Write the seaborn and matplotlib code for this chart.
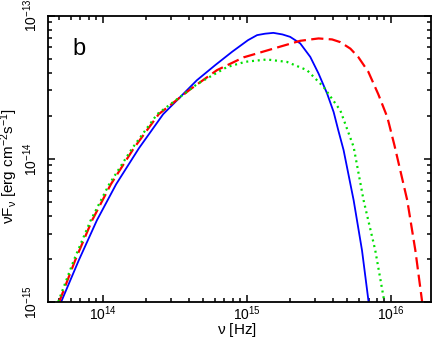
import numpy as np
import pandas as pd
import matplotlib
matplotlib.use('Agg')
import matplotlib.pyplot as plt
import matplotlib.ticker as mticker
import seaborn as sns

# frequencies [Hz] and nuF_nu [erg cm^-2 s^-1]
blue_nu = [5.15e13, 6.82e13, 9.12e13, 1.24e14, 1.78e14, 2.63e14, 4.51e14, 6.04e14, 7.93e14,
           1.02e15, 1.18e15, 1.34e15, 1.53e15, 1.77e15, 2.00e15, 2.35e15, 2.76e15, 3.15e15,
           3.61e15, 4.01e15, 4.32e15, 4.70e15, 5.52e15, 6.31e15, 7.01e15]
blue_f = [1.0e-15, 1.95e-15, 3.72e-15, 6.64e-15, 1.18e-14, 2.05e-14, 3.54e-14, 4.51e-14, 5.60e-14,
          6.74e-14, 7.31e-14, 7.48e-14, 7.58e-14, 7.39e-14, 7.11e-14, 6.40e-14, 5.15e-14, 3.94e-14,
          2.86e-14, 2.12e-14, 1.58e-14, 1.15e-14, 5.13e-15, 2.29e-15, 1.0e-15]

red_nu = [4.99e13, 6.44e13, 8.45e13, 1.14e14, 1.64e14, 2.45e14, 4.06e14, 6.21e14, 9.50e14,
          1.28e15, 1.75e15, 2.35e15, 3.15e15, 3.91e15, 4.46e15, 5.24e15, 5.95e15, 6.98e15,
          8.19e15, 9.46e15, 1.06e16, 1.30e16, 1.48e16, 1.65e16]
red_f = [1.0e-15, 1.95e-15, 3.72e-15, 6.64e-15, 1.18e-14, 2.05e-14, 3.06e-14, 4.16e-14, 5.11e-14,
         5.58e-14, 6.12e-14, 6.67e-14, 6.93e-14, 6.82e-14, 6.53e-14, 5.88e-14, 5.13e-14, 4.05e-14,
         2.82e-14, 1.95e-14, 1.24e-14, 5.13e-15, 2.29e-15, 1.0e-15]

green_nu = [4.91e13, 6.30e13, 8.26e13, 1.11e14, 1.60e14, 2.39e14, 4.06e14, 4.51e14, 7.28e14,
            9.77e14, 1.38e15, 1.90e15, 2.62e15, 3.41e15, 4.46e15, 5.52e15, 6.47e15, 7.80e15,
            9.02e15]
green_f = [1.0e-15, 1.95e-15, 3.72e-15, 6.64e-15, 1.18e-14, 2.05e-14, 3.06e-14, 3.32e-14, 4.37e-14,
           4.76e-14, 4.94e-14, 4.75e-14, 4.16e-14, 3.18e-14, 2.18e-14, 1.21e-14, 5.13e-15, 2.29e-15,
           1.0e-15]

x_major = [1e14, 1e15, 1e16]
y_major = [1e-15, 1e-14, 1e-13]

sns.set_style('ticks')
plt.rcParams['font.family'] = ['Liberation Sans', 'DejaVu Sans']
plt.rcParams['mathtext.fontset'] = 'custom'
plt.rcParams['mathtext.rm'] = 'Liberation Sans'
plt.rcParams['mathtext.it'] = 'Liberation Sans:italic'
plt.rcParams['mathtext.default'] = 'regular'
for k in ['text.color', 'axes.labelcolor', 'xtick.color', 'ytick.color', 'axes.edgecolor']:
    plt.rcParams[k] = 'black'

fig = plt.figure(figsize=(4.36, 3.40), dpi=100)
ax = fig.add_axes([0.111, 0.112, 0.8775, 0.842])

sns.lineplot(x=blue_nu, y=blue_f, ax=ax, color='#0000ff', lw=1.3, estimator=None, sort=False)
sns.lineplot(x=red_nu, y=red_f, ax=ax, color='#ff0000', lw=1.6, estimator=None, sort=False)
sns.lineplot(x=green_nu, y=green_f, ax=ax, color='#00e000', lw=1.6, estimator=None, sort=False)
lines = ax.get_lines()
lines[1].set_dashes([5.5, 2.4])
lines[2].set_dashes([0.9, 1.7])

ax.set_xscale('log')
ax.set_yscale('log')
ax.set_xlim(4.2e13, 1.9e16)
ax.set_ylim(1e-15, 1e-13)

ax.xaxis.set_major_locator(mticker.FixedLocator(x_major))
ax.yaxis.set_major_locator(mticker.FixedLocator(y_major))
ax.xaxis.set_major_formatter(mticker.LogFormatterSciNotation())
ax.yaxis.set_major_formatter(mticker.LogFormatterSciNotation())
ax.xaxis.set_minor_locator(mticker.LogLocator(base=10, subs=np.arange(2, 10), numticks=10))
ax.yaxis.set_minor_locator(mticker.LogLocator(base=10, subs=np.arange(2, 10), numticks=10))
ax.yaxis.set_minor_formatter(mticker.NullFormatter())
ax.xaxis.set_minor_formatter(mticker.NullFormatter())

ax.tick_params(which='both', direction='in', top=True, right=True, width=1.1, labelsize=10)
ax.tick_params(which='major', length=5)
ax.tick_params(which='minor', length=3)
ax.tick_params(axis='x', pad=1.5)
ax.tick_params(axis='y', pad=6)
for lab in ax.get_yticklabels():
    lab.set_rotation(90)
    lab.set_va('center')
for s in ax.spines.values():
    s.set_linewidth(1.3)

ax.set_xlabel(r'$\mathrm{\nu}$ [Hz]', fontsize=11)
ax.set_ylabel(r'$\mathrm{\nu F_{\nu}}$ [erg cm$^{-2}$s$^{-1}$]', fontsize=11)
ax.xaxis.set_label_coords(0.492, -0.068)
ax.yaxis.set_label_coords(-0.074, 0.475)
ax.text(0.064, 0.862, 'b', transform=ax.transAxes, fontsize=17, va='baseline')

fig.savefig('out.png', dpi=100)
